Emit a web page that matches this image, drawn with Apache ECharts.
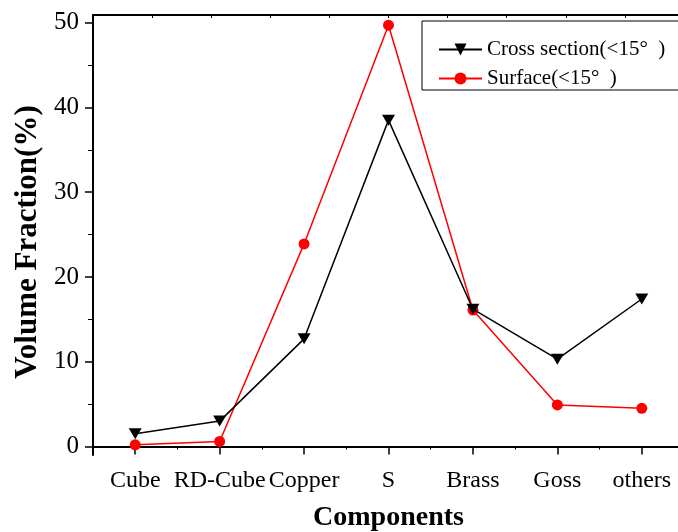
<!DOCTYPE html>
<html>
<head>
<meta charset="utf-8">
<script src="https://cdn.jsdelivr.net/npm/echarts@6/dist/echarts.min.js"></script>
<style>
  html, body { margin: 0; padding: 0; background: #fff; }
  #chart { width: 678px; height: 532px; }
</style>
</head>
<body>
<div id="chart"></div>
<script>
// Texture components and their volume fractions (%)
const categories = ['Cube', 'RD-Cube', 'Copper', 'S', 'Brass', 'Goss', 'others'];
const crossSection = [1.5, 3.0, 12.7, 38.5, 16.2, 10.3, 17.4];
const surface = [0.2, 0.6, 23.9, 49.7, 16.1, 4.9, 4.5];
const seriesNames = ['Cross section(<15°  )', 'Surface(<15°  )'];
const yMajorTicks = [0, 10, 20, 30, 40, 50];
const yMinorTicks = [5, 15, 25, 35, 45];

const serif = 'Liberation Serif, Times New Roman, serif';
const axisLine = { show: true, lineStyle: { color: '#000', width: 2 } };

const chart = echarts.init(document.getElementById('chart'), null, { renderer: 'canvas' });
chart.setOption({
  animation: false,
  backgroundColor: '#fff',
  // the plot frame runs past the right edge of the canvas
  grid: { left: 93, top: 15, width: 591, height: 440, containLabel: false, outerBoundsMode: 'none' },
  legend: {
    orient: 'vertical',
    left: 422,
    top: 21,
    data: seriesNames,
    itemWidth: 43,
    itemHeight: 15,
    itemGap: 8,
    padding: [18, 40, 1, 16],
    borderColor: '#000',
    borderWidth: 1,
    textStyle: { fontFamily: serif, fontSize: 21, color: '#000' }
  },
  xAxis: [
    {
      type: 'category',
      position: 'bottom',
      data: categories,
      boundaryGap: true,
      axisLine: axisLine,
      axisTick: { show: true, alignWithLabel: true, length: 8, lineStyle: { color: '#000', width: 1.5 } },
      axisLabel: { interval: 0, margin: 14, fontFamily: serif, fontSize: 24, color: '#000', hideOverlap: false },
      splitLine: { show: false },
      name: 'Components',
      nameLocation: 'middle',
      nameGap: 49,
      nameTextStyle: { fontFamily: serif, fontSize: 28, fontWeight: 'bold', color: '#000' }
    },
    {
      type: 'category',
      position: 'bottom',
      data: categories,
      boundaryGap: true,
      axisLine: { show: false },
      axisTick: { show: true, alignWithLabel: false, length: 3, lineStyle: { color: '#000', width: 1 } },
      axisLabel: { show: false },
      splitLine: { show: false }
    },
    {
      type: 'value',
      position: 'top',
      min: 0,
      max: 10,
      interval: 1,
      axisLine: axisLine,
      axisTick: { show: true, inside: true, length: 3, lineStyle: { color: '#000', width: 1 } },
      axisLabel: { show: false },
      splitLine: { show: false }
    }
  ],
  yAxis: [
    {
      type: 'value',
      position: 'left',
      min: -1,
      max: 50.9,
      axisLine: axisLine,
      axisTick: { show: true, length: 8, customValues: yMajorTicks, lineStyle: { color: '#000', width: 1.5 } },
      axisLabel: { customValues: yMajorTicks, margin: 14, fontFamily: serif, fontSize: 25, color: '#000' },
      splitLine: { show: false },
      name: 'Volume Fraction(%)',
      nameLocation: 'middle',
      nameGap: 50,
      nameTextStyle: { fontFamily: serif, fontSize: 31, fontWeight: 'bold', color: '#000', padding: [0, 14, 0, 0] }
    },
    {
      type: 'value',
      position: 'left',
      min: -1,
      max: 50.9,
      axisLine: { show: false },
      axisTick: { show: true, length: 5, customValues: yMinorTicks, lineStyle: { color: '#000', width: 1 } },
      axisLabel: { show: false },
      splitLine: { show: false }
    }
  ],
  series: [
    {
      name: seriesNames[1],
      type: 'line',
      xAxisIndex: 0,
      yAxisIndex: 0,
      data: surface,
      symbol: 'circle',
      symbolSize: 11,
      itemStyle: { color: '#ff0000' },
      lineStyle: { color: '#ff0000', width: 1.5 },
      z: 2
    },
    {
      name: seriesNames[0],
      type: 'line',
      xAxisIndex: 0,
      yAxisIndex: 0,
      data: crossSection,
      symbol: 'triangle',
      symbolRotate: 180,
      symbolSize: [13, 11],
      itemStyle: { color: '#000' },
      lineStyle: { color: '#000', width: 1.5 },
      z: 3
    }
  ]
});
</script>
</body>
</html>
